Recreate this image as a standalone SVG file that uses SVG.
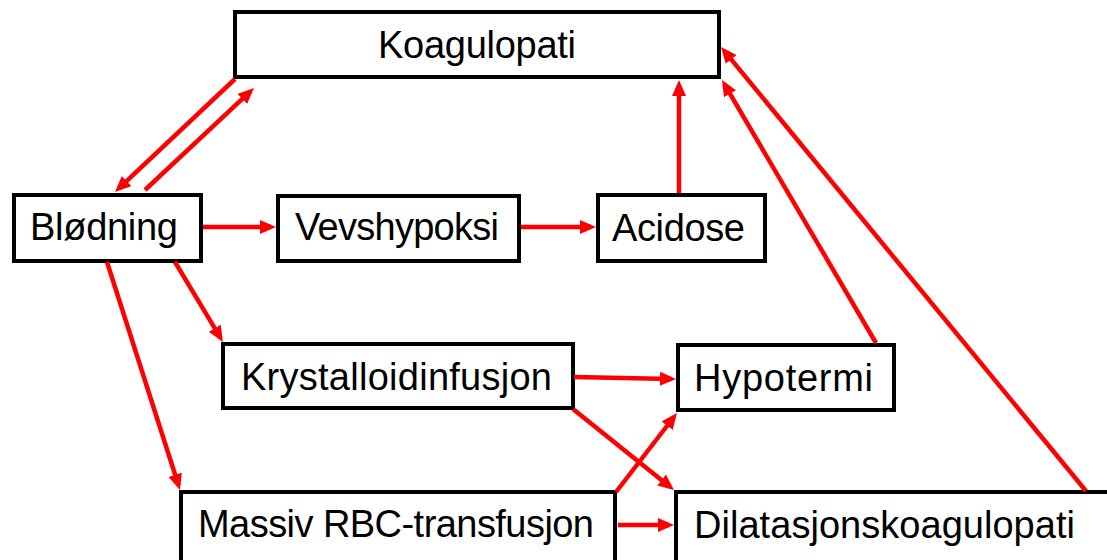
<svg xmlns="http://www.w3.org/2000/svg" width="1107" height="560" viewBox="0 0 1107 560">
<style>
.box{fill:#fff;stroke:#000;stroke-width:4}
.lbl{font-family:"Liberation Sans",Arial,sans-serif;font-size:38px;fill:#000}
.arr{stroke:#ff0000;stroke-width:4.5;fill:none;marker-end:url(#ah)}
</style>
<defs>
<marker id="ah" viewBox="0 0 16 14" refX="11" refY="7" markerWidth="16" markerHeight="14" markerUnits="userSpaceOnUse" orient="auto">
<path d="M0,0 L16,7 L0,14 z" fill="#ff0000"/>
</marker>
</defs>
<rect width="1107" height="560" fill="#fff"/>
<g id="n-koagulopati"><rect class="box" x="235" y="12" width="484" height="65"/><text class="lbl" x="378" y="58" textLength="198">Koagulopati</text></g>
<g id="n-blodning"><rect class="box" x="14" y="195" width="187" height="66"/><text class="lbl" x="30" y="240" textLength="148">Blødning</text></g>
<g id="n-vevshypoksi"><rect class="box" x="278" y="196" width="241" height="65"/><text class="lbl" x="295" y="240" textLength="204">Vevshypoksi</text></g>
<g id="n-acidose"><rect class="box" x="598" y="195" width="167" height="66"/><text class="lbl" x="612" y="241" textLength="133">Acidose</text></g>
<g id="n-krystalloid"><rect class="box" x="223" y="344" width="350" height="64"/><text class="lbl" x="241" y="390" textLength="311">Krystalloidinfusjon</text></g>
<g id="n-hypotermi"><rect class="box" x="678" y="345" width="216" height="65"/><text class="lbl" x="694" y="391" textLength="179">Hypotermi</text></g>
<g id="n-massiv"><rect class="box" x="181" y="492" width="434" height="80"/><text class="lbl" x="198" y="537" textLength="396">Massiv RBC-transfusjon</text></g>
<g id="n-dilatasjon"><rect class="box" x="676" y="492" width="440" height="80"/><text class="lbl" x="694" y="538" textLength="381">Dilatasjonskoagulopati</text></g>
<g id="connectors">
<line class="arr" x1="235" y1="79" x2="118.6" y2="188.6"/>
<line class="arr" x1="145" y1="190" x2="250.3" y2="91.4"/>
<line class="arr" x1="203" y1="227" x2="271" y2="227"/>
<line class="arr" x1="521" y1="227" x2="591" y2="227"/>
<line class="arr" x1="679" y1="193" x2="679" y2="85"/>
<line class="arr" x1="876" y1="343" x2="724.5" y2="84.3"/>
<line class="arr" x1="1086" y1="491" x2="724.2" y2="50.9"/>
<line class="arr" x1="175" y1="262" x2="220.4" y2="337.7"/>
<line class="arr" x1="107" y1="262" x2="178.5" y2="485.2"/>
<line class="arr" x1="574" y1="377" x2="671" y2="378.9"/>
<line class="arr" x1="573" y1="409" x2="670.1" y2="486.9"/>
<line class="arr" x1="616" y1="492" x2="673.9" y2="417"/>
<line class="arr" x1="618" y1="525" x2="669" y2="525"/>
</g>
</svg>
